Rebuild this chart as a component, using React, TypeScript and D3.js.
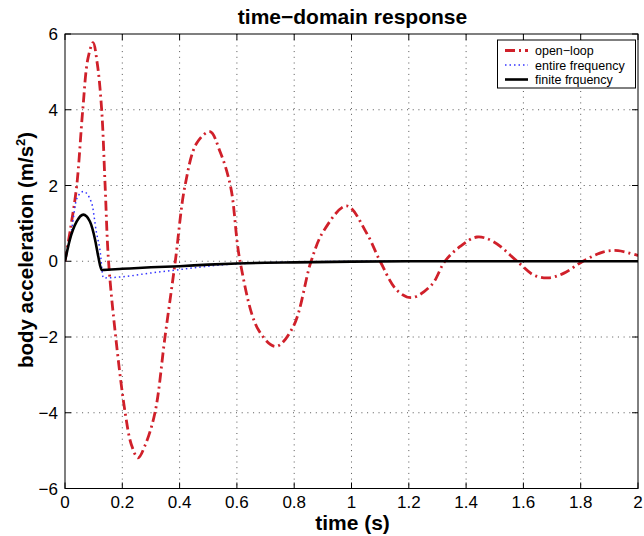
import React from "react";
import * as d3 from "d3";

const xTicks = [0, 0.2, 0.4, 0.6, 0.8, 1, 1.2, 1.4, 1.6, 1.8, 2];
const yTicks = [-6, -4, -2, 0, 2, 4, 6];

const openLoopT = [0, 0.02, 0.041, 0.062, 0.08, 0.098, 0.113, 0.128, 0.14, 0.152, 0.177, 0.21, 0.232, 0.255, 0.28, 0.314, 0.349, 0.385, 0.419, 0.46, 0.506, 0.541, 0.578, 0.611, 0.675, 0.736, 0.797, 0.859, 0.902, 0.983, 1.053, 1.1, 1.158, 1.21, 1.28, 1.326, 1.379, 1.438, 1.495, 1.578, 1.635, 1.686, 1.74, 1.808, 1.88, 1.93, 2.0];
const openLoopV = [0, 0.9, 2, 4, 5.35, 5.77, 5.2, 4, 2, 0, -2, -4, -4.85, -5.19, -4.85, -4, -2, 0, 2, 3.12, 3.42, 2.9, 1.97, 0, -1.81, -2.25, -1.72, 0, 0.79, 1.46, 0.74, 0, -0.76, -0.96, -0.62, 0, 0.39, 0.64, 0.52, 0, -0.36, -0.44, -0.32, 0, 0.25, 0.28, 0.15];

const entireT = [0, 0.023, 0.041, 0.064, 0.093, 0.11, 0.122, 0.134, 0.2, 0.3, 0.4, 0.5, 0.6, 0.7, 0.8, 1.0, 1.2, 2.0];
const entireV = [0, 0.83, 1.65, 1.84, 1.54, 0.75, 0.3, -0.44, -0.41, -0.31, -0.22, -0.13, -0.07, -0.04, -0.02, -0.005, 0, 0];

const finiteT = [0, 0.017, 0.041, 0.064, 0.087, 0.105, 0.116, 0.128, 0.2, 0.3, 0.4, 0.5, 0.6, 0.7, 0.8, 1.0, 1.2, 2.0];
const finiteV = [0, 0.57, 1.05, 1.23, 1.05, 0.57, 0.13, -0.23, -0.2, -0.16, -0.13, -0.09, -0.06, -0.04, -0.03, -0.01, 0, 0];

const legendLabels = ["open\u2212loop", "entire frequency", "finite frquency"];

const W = 644, H = 536;
const L = 65, R = 638, T = 34, B = 488.5;
const FONT = "'Liberation Sans', Arial, Helvetica, sans-serif";

export default function App() {
  const x = d3.scaleLinear().domain([0, 2]).range([L, R]);
  const y = d3.scaleLinear().domain([-6, 6]).range([B, T]);

  const zip = (ts: number[], vs: number[]) => ts.map((t, i) => [t, vs[i]] as [number, number]);

  const redLine = d3.line<[number, number]>().x(d => x(d[0])).y(d => y(d[1])).curve(d3.curveCatmullRom.alpha(0.5));
  const monoLine = d3.line<[number, number]>().x(d => x(d[0])).y(d => y(d[1])).curve(d3.curveMonotoneX);

  const red = "#d0202a";
  const blue = "#3333ff";

  const series = [
    { d: redLine(zip(openLoopT, openLoopV)) || "", stroke: red, width: 2.8, dash: "10,4,2,4" },
    { d: monoLine(zip(entireT, entireV)) || "", stroke: blue, width: 1.5, dash: "1.5,3" },
    { d: monoLine(zip(finiteT, finiteV)) || "", stroke: "#000", width: 2.6, dash: "" },
  ];

  const lg = { x: 497.5, y: 40, w: 138, h: 48 };
  const rowY = [50.5, 65, 79.5];

  return (
    <svg width={W} height={H} style={{ position: "absolute", left: 0, top: 0, background: "#fff" }} fontFamily={FONT}>
      <rect x={0} y={0} width={W} height={H} fill="#fff" />
      {/* grid */}
      <g stroke="#555" strokeWidth={1} strokeDasharray="1,4.7">
        {xTicks.slice(1, -1).map(t => (
          <line key={"gx" + t} x1={x(t)} x2={x(t)} y1={T} y2={B} />
        ))}
        {yTicks.slice(1, -1).map(t => (
          <line key={"gy" + t} x1={L} x2={R} y1={y(t)} y2={y(t)} />
        ))}
      </g>
      {/* ticks */}
      <g stroke="#000" strokeWidth={1}>
        {xTicks.map(t => (
          <g key={"tx" + t}>
            <line x1={x(t)} x2={x(t)} y1={B} y2={B - 6} />
            <line x1={x(t)} x2={x(t)} y1={T} y2={T + 6} />
          </g>
        ))}
        {yTicks.map(t => (
          <g key={"ty" + t}>
            <line x1={L} x2={L + 6} y1={y(t)} y2={y(t)} />
            <line x1={R} x2={R - 6} y1={y(t)} y2={y(t)} />
          </g>
        ))}
      </g>
      {/* series */}
      <g fill="none" clipPath="url(#clipPlot)">
        {series.map((s, i) => (
          <path key={i} d={s.d} stroke={s.stroke} strokeWidth={s.width} strokeDasharray={s.dash || undefined} strokeLinejoin="round" />
        ))}
      </g>
      <defs>
        <clipPath id="clipPlot">
          <rect x={L} y={T} width={R - L} height={B - T} />
        </clipPath>
      </defs>
      {/* frame */}
      <rect x={L} y={T} width={R - L} height={B - T} fill="none" stroke="#000" strokeWidth={1} />
      {/* tick labels */}
      <g fontSize={17} fill="#000">
        {xTicks.map(t => (
          <text key={"lx" + t} x={x(t)} y={508} textAnchor="middle">{String(t)}</text>
        ))}
        {yTicks.map(t => (
          <text key={"ly" + t} x={L - 7} y={y(t) + 6} textAnchor="end">{t < 0 ? "\u2212" + Math.abs(t) : String(t)}</text>
        ))}
      </g>
      {/* title & labels */}
      <text x={(L + R) / 2 + 1} y={24} textAnchor="middle" fontSize={21} fontWeight="bold">time{"\u2212"}domain response</text>
      <text x={(L + R) / 2 + 1} y={530} textAnchor="middle" fontSize={21} fontWeight="bold">time (s)</text>
      <text transform={`translate(33, 250) rotate(-90)`} textAnchor="middle" fontSize={20.5} fontWeight="bold">
        body acceleration (m/s<tspan fontSize={13} dy={-8}>2</tspan><tspan dy={8}>)</tspan>
      </text>
      {/* legend */}
      <g>
        <rect x={lg.x} y={lg.y} width={lg.w} height={lg.h} fill="#fff" stroke="#000" strokeWidth={1} />
        {series.map((s, i) => (
          <g key={"lg" + i}>
            <line x1={505} x2={528} y1={rowY[i]} y2={rowY[i]} stroke={s.stroke} strokeWidth={s.width} strokeDasharray={s.dash || undefined} />
            <text x={535} y={rowY[i] + 4.5} fontSize={12.5}>{legendLabels[i]}</text>
          </g>
        ))}
      </g>
    </svg>
  );
}
